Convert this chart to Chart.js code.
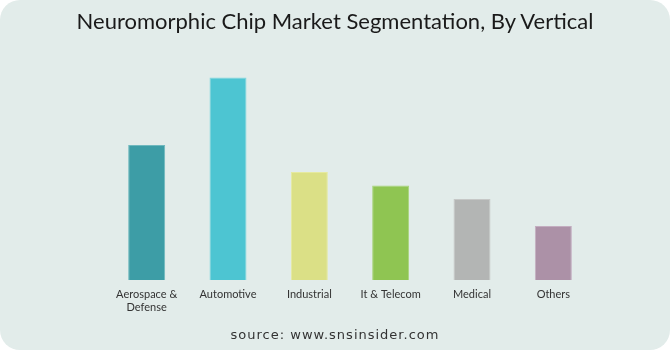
<!DOCTYPE html>
<html>
<head>
<meta charset="utf-8">
<script src="https://cdn.jsdelivr.net/npm/chart.js@4"></script>
<style>
  html, body { margin: 0; padding: 0; background: #ffffff; }
  #wrap { position: relative; width: 670px; height: 350px; background: #e2ecea; border-radius: 20px; overflow: hidden; }
  #title { position: absolute; left: 0; width: 670px; top: 7px; text-align: center; font-family: "Lato", sans-serif; font-size: 22px; color: #1a1a1a; }
  #source { position: absolute; left: 0; width: 670px; top: 327px; text-align: center; font-family: "DejaVu Sans", sans-serif; font-size: 13px; letter-spacing: 1px; color: #333; }
  canvas { position: absolute; left: 0; top: 0; }
</style>
</head>
<body>
<div id="wrap">
  <canvas id="c" width="670" height="350"></canvas>
  <div id="title">Neuromorphic Chip Market Segmentation, By Vertical</div>
  <div id="source">source: www.snsinsider.com</div>
</div>
<script>
const categories = [["Aerospace &", "Defense"], "Automotive", "Industrial", "It & Telecom", "Medical", "Others"];
const shares = [20, 30, 16, 14, 12, 8];
const barColors = ["#3d9da6", "#4dc5d2", "#dbe086", "#8fc552", "#b3b5b4", "#ac91a7"];
const edgeColors = ["#6fb8be", "#7fd6df", "#e6ea9f", "#a8d47a", "#c6c8c7", "#c3adc0"];

new Chart(document.getElementById("c"), {
  type: "bar",
  data: {
    labels: categories,
    datasets: [{
      data: shares,
      backgroundColor: barColors,
      borderColor: edgeColors,
      borderWidth: 1,
      barPercentage: 0.455,
      categoryPercentage: 1.0
    }]
  },
  options: {
    responsive: false,
    animation: false,
    layout: { padding: { left: 106, right: 76, top: 64, bottom: 30 } },
    plugins: { legend: { display: false }, tooltip: { enabled: false }, title: { display: false } },
    scales: {
      y: { display: false, min: 0, max: 32 },
      x: {
        grid: { display: false },
        border: { display: false },
        ticks: { color: "#333", font: { family: "Lato", size: 11 }, padding: 0, maxRotation: 0, autoSkip: false },
        afterFit: s => { s.height = 40; }
      }
    }
  }
});
</script>
</body>
</html>
